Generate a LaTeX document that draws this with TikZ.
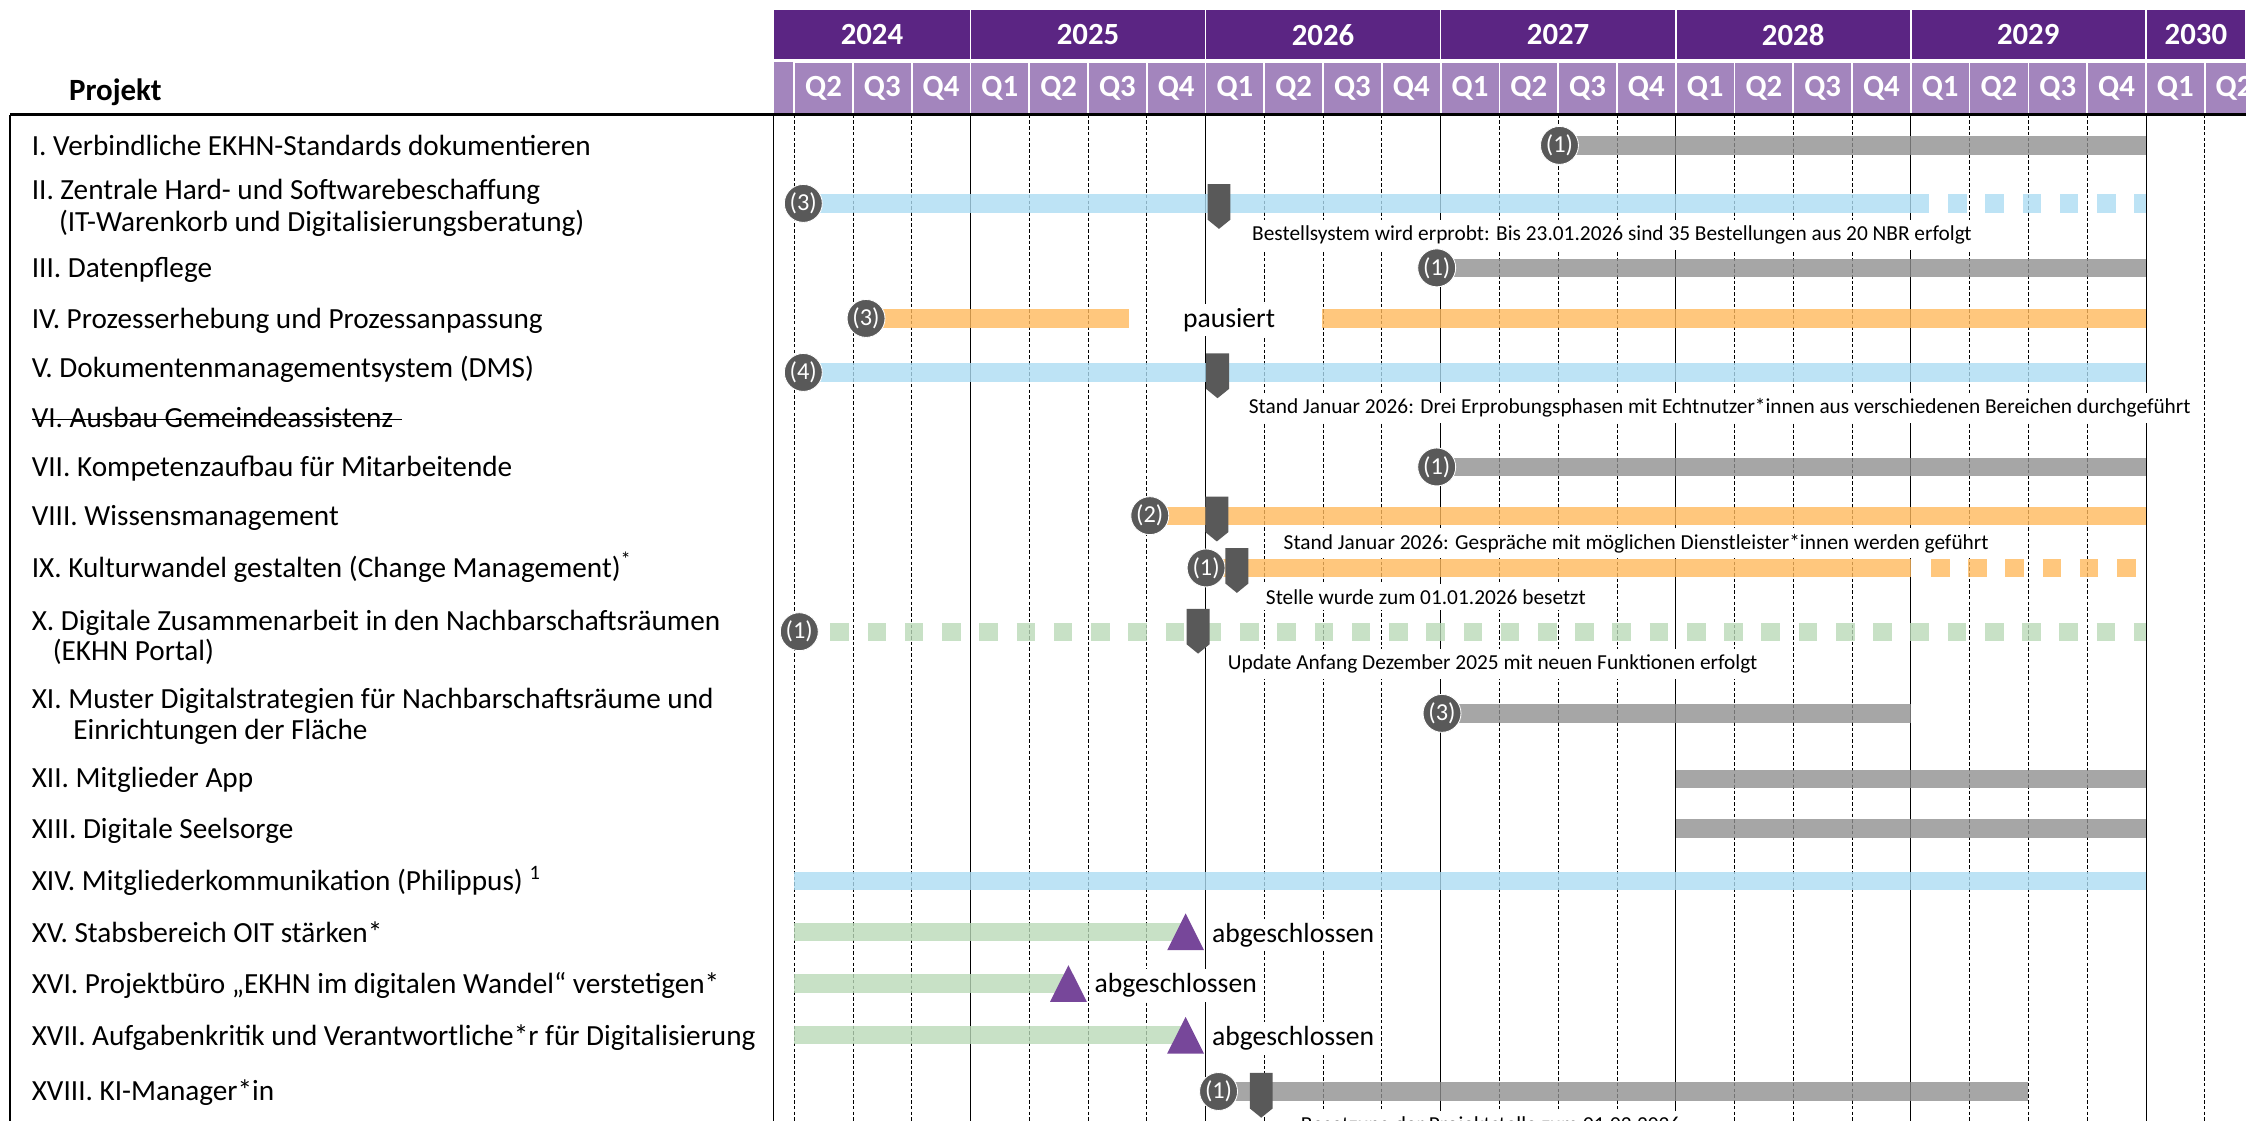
\documentclass[tikz,border=0pt]{standalone}
\usepackage{fontspec}
\setmainfont{Carlito}
\definecolor{yearpurple}{RGB}{91,37,131}
\definecolor{qpurple}{RGB}{163,133,189}
\definecolor{barblue}{RGB}{173,220,243}
\definecolor{barorange}{RGB}{255,185,93}
\definecolor{bargreen}{RGB}{186,217,184}
\definecolor{bargrey}{RGB}{144,144,144}
\definecolor{markgrey}{RGB}{89,89,89}
\definecolor{donepurple}{RGB}{119,71,154}
\tikzstyle{yearcell} = [draw=white, line width=1.2pt, fill=yearpurple, text=white, minimum height=35.5pt, inner sep=0pt, font=\fontsize{21.5}{24}\selectfont\bfseries]
\tikzstyle{qcell} = [draw=white, line width=1.2pt, fill=qpurple, text=white, minimum width=41.03pt, minimum height=36pt, inner sep=0pt, font=\fontsize{21.5}{24}\selectfont\bfseries]
\tikzstyle{project} = [anchor=base west, inner sep=0pt, font=\fontsize{20.4}{24}\selectfont]
\tikzstyle{status} = [anchor=base west, fill=white, inner sep=3pt, font=\fontsize{19.3}{22}\selectfont]
\tikzstyle{note} = [anchor=base west, fill=white, inner xsep=6pt, inner ysep=4pt, font=\fontsize{14.9}{17}\selectfont]
\tikzstyle{num} = [circle, fill=markgrey, draw=white, line width=0.6pt, text=white, minimum size=26.5pt, inner sep=0pt, font=\fontsize{17}{17}\selectfont]
\tikzstyle{gridsolid} = [line width=0.6pt]
\tikzstyle{griddash} = [line width=0.6pt, dash pattern=on 2.5pt off 1.5pt]
\tikzstyle{bar} = [line width=12.8pt, opacity=0.8]
\tikzstyle{greybar} = [bar, draw=bargrey]
\tikzstyle{bluebar} = [bar, draw=barblue]
\tikzstyle{orangebar} = [bar, draw=barorange]
\tikzstyle{greenbar} = [bar, draw=bargreen]
\tikzstyle{dashbar} = [dash pattern=on 13pt off 13pt]
\tikzset{
  flag/.pic={\fill[markgrey] (-8,0) -- (8,0) -- (8,24.8) -- (0,31.3) -- (-8,24.8) -- cycle;},
  done/.pic={\fill[donepurple] (-12.85,12.8) -- (12.85,12.8) -- (0,-12.8) -- cycle;}
}

\begin{document}
\begin{tikzpicture}[x=1pt, y=-1pt]
\useasboundingbox (0,0) rectangle (1568,782);
\clip (0,0) rectangle (1568,782);

% years and quarters
\foreach \a/\b/\yr in {540/677.5/2024, 677.5/841.6/2025, 841.6/1005.7/2026, 1005.7/1169.8/2027, 1169.8/1333.9/2028, 1333.9/1498/2029, 1498/1568/2030}
  \node[yearcell, minimum width=\b-\a] (y\yr) at ({(\a+\b)/2},24.3) {\yr};
\fill[qpurple] (540,43.5) rectangle (554.4,79.5);
\foreach \t in {1,...,25} {
  \pgfmathtruncatemacro{\qq}{mod(\t,4)+1}
  \node[qcell] (q\t) at (533.9+41.03*\t,61.5) {Q\qq};
}
\node[project, font=\fontsize{21.6}{24}\selectfont\bfseries] (head) at (48,70) {Projekt};

% grid
\foreach \t in {4,8,...,24}
  \draw[gridsolid] (513.4+41.03*\t,80) -- (513.4+41.03*\t,790);
\foreach \t in {1,2,3,5,6,7,9,10,11,13,14,15,17,18,19,21,22,23,25}
  \draw[griddash] (513.4+41.03*\t,80) -- (513.4+41.03*\t,790);
\draw[line width=1.6pt] (7,80) -- (1568,80);
\draw[line width=1pt] (7,80) -- (7,790);
\draw[line width=1pt] (540,80) -- (540,790);

% bar ends
\coordinate (s1) at (1088.7,101.5); \coordinate (e1) at (1498,101.5);
\coordinate (s2) at (560.8,142); \coordinate (d2) at (1347,142);
\coordinate (f2) at (1360,142); \coordinate (e2) at (1498,142);
\coordinate (s3) at (1003,187); \coordinate (e3) at (1498,187);
\coordinate (s4) at (604.6,222.3); \coordinate (d4) at (788.5,222.3);
\coordinate (f4) at (923,222.3); \coordinate (e4) at (1498,222.3);
\coordinate (s5) at (560.8,260); \coordinate (e5) at (1498,260);
\coordinate (s7) at (1003,326); \coordinate (e7) at (1498,326);
\coordinate (s8) at (802.7,360); \coordinate (e8) at (1498,360);
\coordinate (s9) at (842,396.5); \coordinate (d9) at (1334,396.5);
\coordinate (f9) at (1348,396.5); \coordinate (e9) at (1498,396.5);
\coordinate (s10) at (558,441); \coordinate (f10) at (579.7,441); \coordinate (e10) at (1498,441);
\coordinate (s11) at (1006.7,498); \coordinate (e11) at (1334,498);
\coordinate (s12) at (1169.8,544); \coordinate (e12) at (1498,544);
\coordinate (s13) at (1169.8,578.5); \coordinate (e13) at (1498,578.5);
\coordinate (s14) at (554.4,615); \coordinate (e14) at (1498,615);
\coordinate (s15) at (554.4,650.5); \coordinate (e15) at (827.7,650.5);
\coordinate (s16) at (554.4,686.6); \coordinate (e16) at (745.9,686.6);
\coordinate (s17) at (554.4,722.7); \coordinate (e17) at (827.7,722.7);
\coordinate (s18) at (850.7,762); \coordinate (e18) at (1416,762);

% bars
\draw[greybar] (s1) -- (e1);
\draw[bluebar] (s2) -- (d2);
\draw[bluebar, dashbar] (f2) -- (e2);
\draw[greybar] (s3) -- (e3);
\draw[orangebar] (s4) -- (d4);
\draw[orangebar] (f4) -- (e4);
\draw[bluebar] (s5) -- (e5);
\draw[greybar] (s7) -- (e7);
\draw[orangebar] (s8) -- (e8);
\draw[orangebar] (s9) -- (d9);
\draw[orangebar, dashbar] (f9) -- (e9);
\draw[greenbar, dashbar] (f10) -- (e10);
\draw[greybar] (s11) -- (e11);
\draw[greybar] (s12) -- (e12);
\draw[greybar] (s13) -- (e13);
\draw[bluebar] (s14) -- (e14);
\draw[greenbar] (s15) -- (e15);
\draw[greenbar] (s16) -- (e16);
\draw[greenbar] (s17) -- (e17);
\draw[greybar] (s18) -- (e18);

% notes
\node[note] (note2) at (868,167.8) {Bestellsystem wird erprobt: Bis 23.01.2026 sind 35 Bestellungen aus 20 NBR erfolgt};
\node[note] (note5) at (865.7,288.8) {Stand Januar 2026: Drei Erprobungsphasen mit Echtnutzer*innen aus verschiedenen Bereichen durchgeführt};
\node[note] (note8) at (890,383.3) {Stand Januar 2026: Gespräche mit möglichen Dienstleister*innen werden geführt};
\node[note] (note9) at (877.6,421.8) {Stelle wurde zum 01.01.2026 besetzt};
\node[note] (note10) at (851,467.4) {Update Anfang Dezember 2025 mit neuen Funktionen erfolgt};
\node[note] (note18) at (902,789.8) {Besetzung der Projektstelle zum 01.02.2026};
\node[status] (pause4) at (822.7,228.5) {pausiert};
\node[status] (done15) at (843,657.7) {abgeschlossen};
\node[status] (done16) at (761,693.2) {abgeschlossen};
\node[status] (done17) at (843,729.9) {abgeschlossen};

% projects
\node[project] (p1) at (22,108.6) {I. Verbindliche EKHN-Standards dokumentieren};
\node[project] (p2) at (22,139.6) {II. Zentrale Hard- und Softwarebeschaffung};
\node[project] (p2b) at (41,161.6) {(IT-Warenkorb und Digitalisierungsberatung)};
\node[project] (p3) at (22,193.6) {III. Datenpflege};
\node[project] (p4) at (22,229.1) {IV. Prozesserhebung und Prozessanpassung};
\node[project] (p5) at (22,263.6) {V. Dokumentenmanagementsystem (DMS)};
\node[project] (p6) at (22,298.6) {VI. Ausbau Gemeindeassistenz};
\draw[line width=0.9pt] ([yshift=5.6pt]p6.base west) -- ([xshift=6pt, yshift=5.6pt]p6.base east);
\node[project] (p7) at (22,332.6) {VII. Kompetenzaufbau für Mitarbeitende};
\node[project] (p8) at (22,367.1) {VIII. Wissensmanagement};
\node[project] (p9) at (22,403.1) {IX. Kulturwandel gestalten (Change Management)\textsuperscript{*}};
\node[project] (p10) at (22,440.1) {X. Digitale Zusammenarbeit in den Nachbarschaftsräumen};
\node[project] (p10b) at (36.7,461.1) {(EKHN Portal)};
\node[project] (p11) at (22,494.6) {XI. Muster Digitalstrategien für Nachbarschaftsräume und};
\node[project] (p11b) at (51,516.1) {Einrichtungen der Fläche};
\node[project] (p12) at (22,550.1) {XII. Mitglieder App};
\node[project] (p13) at (22,585.6) {XIII. Digitale Seelsorge};
\node[project] (p14) at (22,621.6) {XIV. Mitgliederkommunikation (Philippus) \textsuperscript{1}};
\node[project] (p15) at (22,658.1) {XV. Stabsbereich OIT stärken*};
\node[project] (p16) at (22,693.6) {XVI. Projektbüro „EKHN im digitalen Wandel“ verstetigen*};
\node[project] (p17) at (22,730.1) {XVII. Aufgabenkritik und Verantwortliche*r für Digitalisierung};
\node[project] (p18) at (22,768.6) {XVIII. KI-Manager*in};

% milestones
\node[num] (n1) at (s1) {(1)};
\node[num] (n2) at (s2) {(3)};
\node[num] (n3) at (s3) {(1)};
\node[num] (n4) at (s4) {(3)};
\node[num] (n5) at (s5) {(4)};
\node[num] (n7) at (s7) {(1)};
\node[num] (n8) at (s8) {(2)};
\node[num] (n9) at (s9) {(1)};
\node[num] (n10) at (s10) {(1)};
\node[num] (n11) at (s11) {(3)};
\node[num] (n18) at (s18) {(1)};
\pic (m2) at (851,128.5) {flag};
\pic (m5) at (850,246.7) {flag};
\pic (m8) at (849.5,346.7) {flag};
\pic (m9) at (863.5,382.6) {flag};
\pic (m10) at (836.4,425) {flag};
\pic (m18) at (880.5,749) {flag};
\pic (t15) at (827.7,650.5) {done};
\pic (t16) at (745.9,686.6) {done};
\pic (t17) at (827.7,722.7) {done};
\end{tikzpicture}
\end{document}
